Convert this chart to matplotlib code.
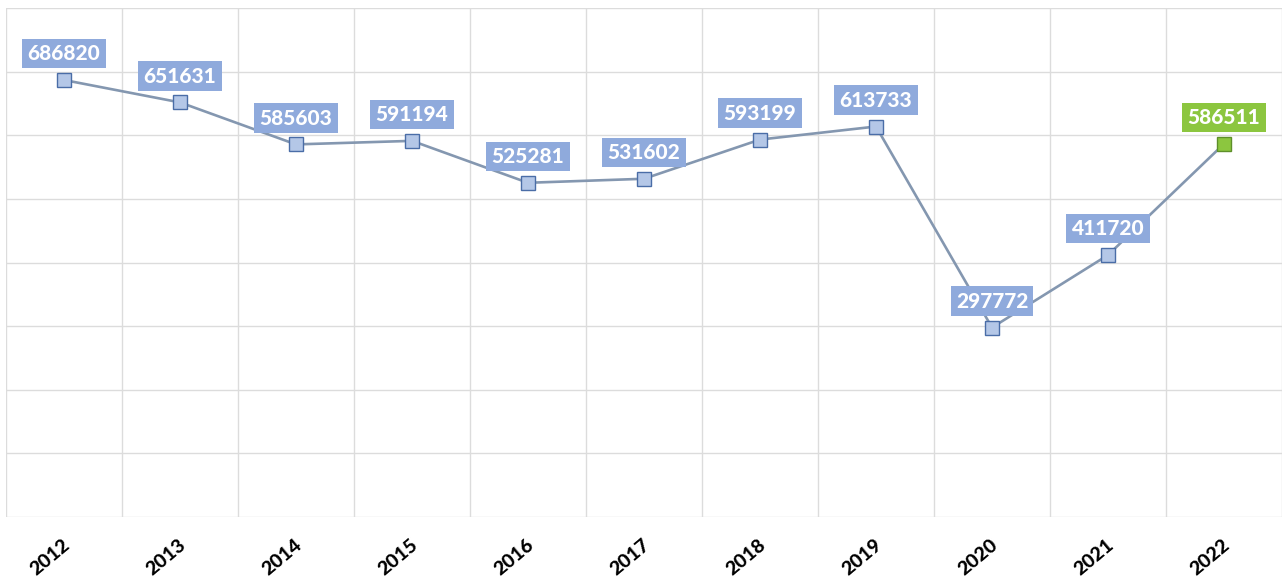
import matplotlib.pyplot as plt
import matplotlib.transforms as mtransforms

# Data
years = ["2012", "2013", "2014", "2015", "2016", "2017",
         "2018", "2019", "2020", "2021", "2022"]
values = [686820, 651631, 585603, 591194, 525281, 531602,
          593199, 613733, 297772, 411720, 586511]

plt.rcParams['font.family'] = ['Lato', 'DejaVu Sans']

fig = plt.figure(figsize=(12.83, 5.8), dpi=100)
ax = fig.add_axes([6 / 1283, 63 / 580, 1276 / 1283, 509 / 580])

x = list(range(len(years)))

# Line
ax.plot(x, values, color='#8497B0', linewidth=1.9, zorder=3)

# Markers (last one green)
ax.plot(x[:-1], values[:-1], linestyle='none', marker='s', markersize=10.5,
        markerfacecolor='#B4C7E7', markeredgecolor='#4A6DA7',
        markeredgewidth=1.0, zorder=4)
ax.plot(x[-1:], values[-1:], linestyle='none', marker='s', markersize=10.5,
        markerfacecolor='#8CC63F', markeredgecolor='#5E8F2A',
        markeredgewidth=1.0, zorder=4)

# Value labels
for i, v in enumerate(values):
    box_color = '#8CC63F' if i == len(values) - 1 else '#8FAADC'
    ax.annotate(str(v), (i, v), xytext=(0, 19), textcoords='offset points',
                ha='center', va='center', fontsize=15, fontweight='black',
                color='white', zorder=5,
                bbox=dict(boxstyle='square,pad=0.25', facecolor=box_color,
                          edgecolor='none'))

# Axes & grid
ax.set_xlim(-0.5, len(years) - 0.5)
ax.set_ylim(0, 800000)
ax.set_yticks(range(0, 800001, 100000))
ax.set_xticks(x)
ax.set_xticks([i - 0.5 for i in range(len(years) + 1)], minor=True)
ax.grid(True, which='minor', axis='x', color='#DCDCDC', linewidth=1)
ax.grid(True, which='major', axis='y', color='#DCDCDC', linewidth=1)
ax.set_axisbelow(True)
for s in ax.spines.values():
    s.set_visible(False)
ax.tick_params(axis='both', which='both', length=0)
ax.set_yticklabels([])

ax.set_xticklabels(years, rotation=40, ha='center', va='top',
                   fontsize=14, fontweight='black', color='black')
ax.tick_params(axis='x', pad=14)
offset = mtransforms.ScaledTranslation(-14 / 100, 0, fig.dpi_scale_trans)
for lbl in ax.get_xticklabels():
    lbl.set_transform(lbl.get_transform() + offset)

fig.savefig('out.png', dpi=100)
